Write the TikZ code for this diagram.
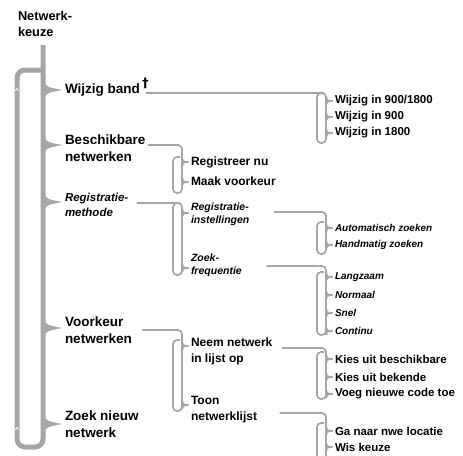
\documentclass[tikz,border=0pt]{standalone}
\usepackage{fontspec}
\setmainfont{Liberation Sans}
\newfontfamily\daggerfont{DejaVu Sans}
\definecolor{lg}{HTML}{A6A6A6}
\tikzset{
  conn/.style={draw=lg, line width=1.7pt},
  mainln/.style={draw=lg, line width=5pt},
  lbl/.style={inner sep=0pt, outer sep=2.5pt, anchor=west, align=left, text=black},
  tt/.style={lbl, font=\bfseries\fontsize{12.8}{16}\selectfont},
  ta/.style={lbl, font=\bfseries\fontsize{13.5}{17}\selectfont},
  tai/.style={lbl, font=\bfseries\itshape\fontsize{11.5}{15}\selectfont},
  tb/.style={lbl, font=\bfseries\fontsize{12}{16}\selectfont},
  tbi/.style={lbl, font=\bfseries\itshape\fontsize{10.5}{13}\selectfont},
  tc/.style={lbl, font=\bfseries\fontsize{11.5}{15}\selectfont},
  tci/.style={lbl, font=\bfseries\itshape\fontsize{10}{12}\selectfont},
}
\newcommand{\mainTip}[2]{\fill[lg] (43,#1-10) .. controls (45,#1-3) and (49,#1-2.4) .. (#2.west |- 0,#1) .. controls (49,#1+2.4) and (45,#1+3) .. (43,#1+10) -- cycle;}
\newcommand{\subTip}[3]{\draw[conn] (#1,#2-4) .. controls (#1,#2-1) and (#1+1.5,#2) .. (#3.west |- 0,#2); \draw[conn] (#1,#2+4) .. controls (#1,#2+1) and (#1+1.5,#2) .. (#3.west |- 0,#2);}
\begin{document}
\begin{tikzpicture}[x=1pt,y=-1pt]
\useasboundingbox (0,0) rectangle (463,455);
% title
\node[tt] (nk) at (15.5,24) {Netwerk-\\keuze};
% level 1
\node[ta] (wb) at (62.5,90) {Wijzig band\,\smash{\raisebox{6pt}{\daggerfont\bfseries\fontsize{13}{13}\selectfont †}}};
\node[ta] (bn) at (62.5,148.5) {Beschikbare\\netwerken};
\node[tai] (rm) at (62.5,204.5) {Registratie-\\methode};
\node[ta] (vn) at (62.5,330.5) {Voorkeur\\netwerken};
\node[ta] (zn) at (62.5,424.5) {Zoek nieuw\\netwerk};
% level 2
\node[tb] (rn) at (188.5,162) {Registreer nu};
\node[tb] (mv) at (188.5,181) {Maak voorkeur};
\node[tbi] (ri) at (188.5,214.5) {Registratie-\\instellingen};
\node[tbi] (zf) at (188.5,265.5) {Zoek-\\frequentie};
\node[tb] (nn) at (188.5,351) {Neem netwerk\\in lijst op};
\node[tb] (tn) at (188.5,409.5) {Toon\\netwerklijst};
% level 3
\node[tc] (w1) at (332.5,101) {Wijzig in 900/1800};
\node[tc] (w2) at (332.5,117) {Wijzig in 900};
\node[tc] (w3) at (332.5,133) {Wijzig in 1800};
\node[tci] (az) at (332.5,228) {Automatisch zoeken};
\node[tci] (hz) at (332.5,245) {Handmatig zoeken};
\node[tci] (lz) at (332.5,277) {Langzaam};
\node[tci] (nm) at (332.5,295) {Normaal};
\node[tci] (sn) at (332.5,313) {Snel};
\node[tci] (co) at (332.5,331) {Continu};
\node[tc] (kb) at (332.5,359) {Kies uit beschikbare};
\node[tc] (kk) at (332.5,377) {Kies uit bekende};
\node[tc] (vc) at (332.5,394) {Voeg nieuwe code toe};
\node[tc] (gn) at (332.5,431) {Ga naar nwe locatie};
\node[tc] (wk) at (332.5,447) {Wis keuze};
% main brace
\coordinate (mtop) at (43,45);
\draw[mainln, rounded corners=8] (mtop) -- (43,447) -- (17,447) -- (17,70) -- (43,70);
\draw[white, line width=0.7pt] (15.3,91) -- (17,88.5) -- (18.7,91);
\draw[white, line width=0.7pt] (15.3,430) -- (17,427.5) -- (18.7,430);
\mainTip{90}{wb}
\mainTip{145}{bn}
\mainTip{202}{rm}
\mainTip{328}{vn}
\mainTip{424}{zn}
% level-2 groups
\draw[conn, rounded corners=4] (bn.east |- 0,145) -- (182,145) -- (182,193) -- (173,193) -- (173,157) -- (180,157);
\subTip{182}{162}{rn}
\subTip{182}{182}{mv}
\draw[conn, rounded corners=4] ([xshift=6pt]rm.east |- 0,203) -- (182,203) -- (182,275) -- (173,275) -- (173,203) -- (180,203);
\subTip{182}{213}{ri}
\subTip{182}{268}{zf}
\draw[conn, rounded corners=4] ([xshift=8pt]vn.east |- 0,330) -- (182,330) -- (182,411) -- (173,411) -- (173,340) -- (180,340);
\subTip{182}{346}{nn}
\subTip{182}{405}{tn}
% level-3 groups
\draw[conn, rounded corners=4] ([xshift=-5pt]wb.east |- 0,93) -- (326,93) -- (326,143) -- (317,143) -- (317,93) -- (324,93);
\subTip{326}{101}{w1}
\subTip{326}{117}{w2}
\subTip{326}{133}{w3}
\draw[conn, rounded corners=4] ([xshift=22pt]ri.east |- 0,212) -- (326,212) -- (326,254) -- (317,254) -- (317,222) -- (324,222);
\subTip{326}{228}{az}
\subTip{326}{245}{hz}
\draw[conn, rounded corners=4] ([xshift=22pt]zf.east |- 0,266) -- (326,266) -- (326,335) -- (317,335) -- (317,272) -- (324,272);
\subTip{326}{277}{lz}
\subTip{326}{295}{nm}
\subTip{326}{313}{sn}
\subTip{326}{331}{co}
\draw[conn, rounded corners=4] ([xshift=7pt]nn.east |- 0,348) -- (326,348) -- (326,399) -- (317,399) -- (317,352) -- (324,352);
\subTip{326}{359}{kb}
\subTip{326}{377}{kk}
\subTip{326}{394}{vc}
\draw[conn, rounded corners=4] ([xshift=20pt]tn.east |- 0,413) -- (326,413) -- (326,462);
\draw[conn, rounded corners=4] (317,462) -- (317,423) -- (324,423);
\subTip{326}{431}{gn}
\subTip{326}{447}{wk}
\end{tikzpicture}
\end{document}
